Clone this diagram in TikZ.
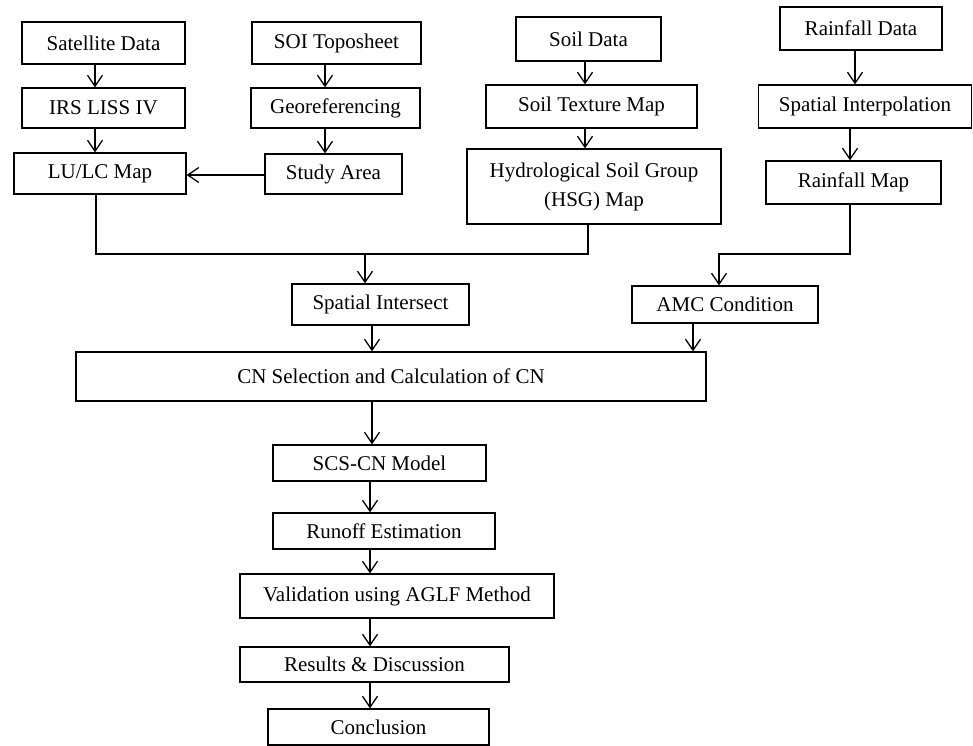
\documentclass[tikz,border=0pt]{standalone}
\usepackage{fontspec}
\setmainfont{Liberation Serif}
\usetikzlibrary{arrows.meta}
\begin{document}
\begin{tikzpicture}[x=1pt,y=-1pt,
  box/.style={draw,line width=1.3pt,inner sep=0pt,align=center,
    font=\fontsize{21}{29}\selectfont},
  arr/.style={line width=1.3pt,-{Straight Barb[length=11pt,width=15pt]}},
  ln/.style={line width=1.3pt}]
\useasboundingbox (0,0) rectangle (973,745);
% nodes: center, width, height
\node[box,minimum width=163pt,minimum height=42pt] (sat) at (103.5,43) {Satellite Data};
\node[box,minimum width=163pt,minimum height=40pt] (irs) at (103.5,108) {IRS LISS IV};
\node[box,minimum width=172pt,minimum height=41pt] (lulc) at (100,173.5) {LU/LC Map};
\node[box,minimum width=169pt,minimum height=42pt] (soi) at (336.5,43) {SOI Toposheet};
\node[box,minimum width=169pt,minimum height=40pt] (geo) at (335.5,108) {Georeferencing};
\node[box,minimum width=137pt,minimum height=40pt] (study) at (333.5,174) {Study Area};
\node[box,minimum width=145pt,minimum height=44pt] (soil) at (588.5,39) {Soil Data};
\node[box,minimum width=211pt,minimum height=43pt] (tex) at (591.5,106.5) {Soil Texture Map};
\node[box,minimum width=254pt,minimum height=75pt] (hsg) at (594,186.5) {Hydrological Soil Group\\(HSG) Map};
\node[box,minimum width=162pt,minimum height=43pt] (rain) at (861,28.5) {Rainfall Data};
\node[box,minimum width=213pt,minimum height=43pt] (interp) at (865,106.5) {Spatial Interpolation};
\node[box,minimum width=175pt,minimum height=43pt] (rmap) at (853.5,182.5) {Rainfall Map};
\node[box,minimum width=177pt,minimum height=41pt] (si) at (380.5,304.5) {Spatial Intersect};
\node[box,minimum width=186pt,minimum height=37pt] (amc) at (725,304.5) {AMC Condition};
\node[box,minimum width=630pt,minimum height=49pt] (cn) at (391,376.5) {CN Selection and Calculation of CN};
\node[box,minimum width=213pt,minimum height=36pt] (scs) at (379.5,463) {SCS-CN Model};
\node[box,minimum width=222pt,minimum height=36pt] (run) at (384,531) {Runoff Estimation};
\node[box,minimum width=314pt,minimum height=44pt] (val) at (397,596) {Validation using AGLF Method};
\node[box,minimum width=269pt,minimum height=35pt] (res) at (374.5,664.5) {Results \& Discussion};
\node[box,minimum width=221pt,minimum height=36pt] (conc) at (378.5,727) {Conclusion};
% column coordinates
\coordinate (c1) at (95,0);
\coordinate (c1b) at (96,0);
\coordinate (c2) at (325,0);
\coordinate (c3) at (585,0);
\coordinate (c3b) at (588,0);
\coordinate (c4) at (855,0);
\coordinate (c4b) at (850,0);
\coordinate (m1) at (365,254);
\coordinate (m2) at (719,254);
\coordinate (c5) at (372,0);
\coordinate (c6) at (693,0);
\coordinate (c7) at (370,0);
\coordinate (ry) at (0,175);
% connectors
\draw[arr] (sat.south -| c1) -- (irs.north -| c1);
\draw[arr] (irs.south -| c1) -- (lulc.north -| c1);
\draw[arr] (soi.south -| c2) -- (geo.north -| c2);
\draw[arr] (geo.south -| c2) -- (study.north -| c2);
\draw[arr] (study.west |- ry) -- (lulc.east |- ry);
\draw[arr] (soil.south -| c3) -- (tex.north -| c3);
\draw[arr] (tex.south -| c3) -- (hsg.north -| c3);
\draw[arr] (rain.south -| c4) -- (interp.north -| c4);
\draw[arr] (interp.south -| c4b) -- (rmap.north -| c4b);
\draw[ln] (lulc.south -| c1b) -- (c1b |- m1) -- (c3b |- m1) -- (hsg.south -| c3b);
\draw[arr] (m1) -- (si.north -| m1);
\draw[arr] (rmap.south -| c4b) -- (c4b |- m2) -- (m2) -- (amc.north -| m2);
\draw[arr] (si.south -| c5) -- (cn.north -| c5);
\draw[arr] (amc.south -| c6) -- (cn.north -| c6);
\draw[arr] (cn.south -| c5) -- (scs.north -| c5);
\draw[arr] (scs.south -| c7) -- (run.north -| c7);
\draw[arr] (run.south -| c7) -- (val.north -| c7);
\draw[arr] (val.south -| c7) -- (res.north -| c7);
\draw[arr] (res.south -| c7) -- (conc.north -| c7);
\end{tikzpicture}
\end{document}
